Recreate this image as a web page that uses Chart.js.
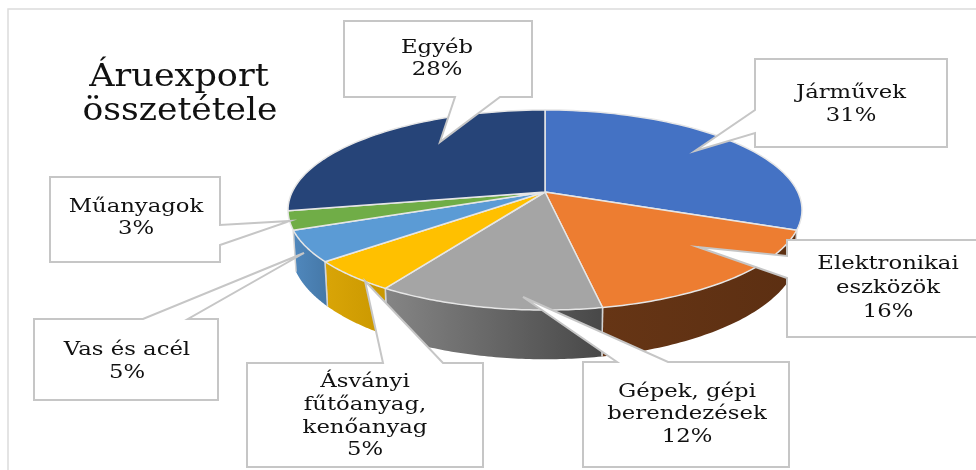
<!DOCTYPE html>
<html><head><meta charset="utf-8">
<style>html,body{margin:0;padding:0;background:#fff}canvas{display:block;filter:blur(0.5px)}</style>
<script src="https://cdn.jsdelivr.net/npm/chart.js@4/dist/chart.umd.js"></script>
</head><body>
<canvas id="c" width="976" height="470"></canvas>
<script>
const categories = ["Járművek","Elektronikai eszközök","Gépek, gépi berendezések","Ásványi fűtőanyag, kenőanyag","Vas és acél","Műanyagok","Egyéb"];
const shares = [31,16,12,5,5,3,28];
const titleLines = ["Áruexport","összetétele"];
const labelLines = [["Járművek"],["Elektronikai","eszközök"],["Gépek, gépi","berendezések"],["Ásványi","fűtőanyag,","kenőanyag"],["Vas és acél"],["Műanyagok"],["Egyéb"]];
const topColors = ["#4472c4","#ed7d31","#a5a5a5","#ffc000","#5b9bd5","#70ad47","#264478"];
const wallColors = [null,["#663515","#5c2f12"],["#858585","#484848"],["#d9a507","#c99700"],["#5088bd","#4578a8"],null,null];
const boxes = [
 {x:755,y:59,w:192,h:88,tip:[695,151],side:'l',a:110,b:133,cx:851,ys:[93,116]},
 {x:787,y:240,w:195,h:97,tip:[698,247],side:'l',a:256,b:278,cx:888,ys:[264,288,312]},
 {x:583,y:362,w:206,h:105,tip:[523,297],side:'t',a:617,b:668,cx:687,ys:[392,414,437]},
 {x:247,y:363,w:236,h:104,tip:[365,281],side:'t',a:383,b:443,cx:365,ys:[382,405,428,450]},
 {x:34,y:319,w:184,h:81,tip:[304,253],side:'t',a:143,b:188,cx:127,ys:[350,373]},
 {x:50,y:177,w:170,h:85,tip:[290,221],side:'r',a:225,b:245,cx:136,ys:[207,229]},
 {x:344,y:21,w:188,h:76,tip:[440,142],side:'b',a:455,b:500,cx:437,ys:[48,70]}
];
const persp = {b:0.18,a:96.8,c:252.8,dy:38,a2:106,c2:250};

function topPt(el,t){const u=Math.cos(t),v=Math.sin(t),k=1-persp.b*v;return [el.x+persp.c*u/k,el.y+persp.a*v/k];}
function botPt(el,t){const u=Math.cos(t),v=Math.sin(t),k=1-persp.b*v;return [el.x+persp.c2*u/k,el.y+persp.dy+persp.a2*v/k];}
function wideText(ctx,t,cx,y,sx){ctx.save();ctx.translate(cx,y);ctx.scale(sx,1);ctx.fillText(t,0,0);ctx.restore();}

const pie3d = {
 id:'pie3d',
 beforeDatasetDraw(chart,args){
  const ctx=chart.ctx, arcs=chart.getDatasetMeta(0).data, N=60;
  ctx.save();
  arcs.forEach((el,i)=>{
    const wc=wallColors[i]; if(!wc) return;
    const s=Math.max(el.startAngle,0), e=Math.min(el.endAngle,Math.PI);
    const p=[],q=[];
    for(let n=0;n<=N;n++){const t=s+(e-s)*n/N;p.push(topPt(el,t));q.push(botPt(el,t));}
    const xs=p.concat(q).map(d=>d[0]);
    const g=ctx.createLinearGradient(Math.max(...xs),0,Math.min(...xs),0);
    g.addColorStop(0,wc[1]);g.addColorStop(1,wc[0]);
    ctx.beginPath();
    p.forEach((d,k)=>k?ctx.lineTo(d[0],d[1]):ctx.moveTo(d[0],d[1]));
    q.slice().reverse().forEach(d=>ctx.lineTo(d[0],d[1]));
    ctx.closePath();
    ctx.fillStyle=g;ctx.fill();
    ctx.strokeStyle='#d4d4d4';ctx.lineWidth=1.5;
    [0,N].forEach(k=>{ctx.beginPath();ctx.moveTo(p[k][0],p[k][1]);ctx.lineTo(q[k][0],q[k][1]);ctx.stroke();});
  });
  arcs.forEach((el,i)=>{
    ctx.beginPath();ctx.moveTo(el.x,el.y);
    for(let n=0;n<=N;n++){const d=topPt(el,el.startAngle+(el.endAngle-el.startAngle)*n/N);ctx.lineTo(d[0],d[1]);}
    ctx.closePath();
    ctx.fillStyle=topColors[i];ctx.fill();
    ctx.strokeStyle='#e6e6e6';ctx.lineWidth=1.5;ctx.lineJoin='round';ctx.stroke();
  });
  ctx.restore();
  return false;
 },
 afterDraw(chart){
  const ctx=chart.ctx;
  ctx.save();
  ctx.strokeStyle='#dcdcdc';ctx.lineWidth=1.5;
  ctx.beginPath();ctx.moveTo(8,470);ctx.lineTo(8,9);ctx.lineTo(976,9);ctx.stroke();
  ctx.fillStyle='#111';ctx.textAlign='center';ctx.textBaseline='middle';
  ctx.font='31px "DejaVu Serif"';
  wideText(ctx,titleLines[0],179,78,1.13);
  wideText(ctx,titleLines[1],180,112,1.115);
  boxes.forEach((b,i)=>{
    const r=b.x+b.w, d=b.y+b.h;
    ctx.beginPath();ctx.moveTo(b.x,b.y);
    if(b.side==='t'){ctx.lineTo(b.a,b.y);ctx.lineTo(b.tip[0],b.tip[1]);ctx.lineTo(b.b,b.y);}
    ctx.lineTo(r,b.y);
    if(b.side==='r'){ctx.lineTo(r,b.a);ctx.lineTo(b.tip[0],b.tip[1]);ctx.lineTo(r,b.b);}
    ctx.lineTo(r,d);
    if(b.side==='b'){ctx.lineTo(b.b,d);ctx.lineTo(b.tip[0],b.tip[1]);ctx.lineTo(b.a,d);}
    ctx.lineTo(b.x,d);
    if(b.side==='l'){ctx.lineTo(b.x,b.b);ctx.lineTo(b.tip[0],b.tip[1]);ctx.lineTo(b.x,b.a);}
    ctx.closePath();
    ctx.fillStyle='#fff';ctx.fill();
    ctx.strokeStyle='#c6c6c6';ctx.lineWidth=2;ctx.lineJoin='miter';ctx.stroke();
    ctx.fillStyle='#111';ctx.font='18.5px "DejaVu Serif"';
    const lines=labelLines[i].concat([shares[i]+'%']);
    lines.forEach((t,k)=>wideText(ctx,t,b.cx,b.ys[k],1.23));
  });
  ctx.restore();
 }
};

new Chart(document.getElementById('c'),{
 type:'pie',
 data:{labels:categories,datasets:[{data:shares,backgroundColor:topColors,borderWidth:0}]},
 options:{
  responsive:false,animation:false,
  layout:{padding:{left:365,right:251,top:12,bottom:98}},
  plugins:{legend:{display:false},tooltip:{enabled:false},title:{display:false}}
 },
 plugins:[pie3d]
});
</script>
</body></html>
